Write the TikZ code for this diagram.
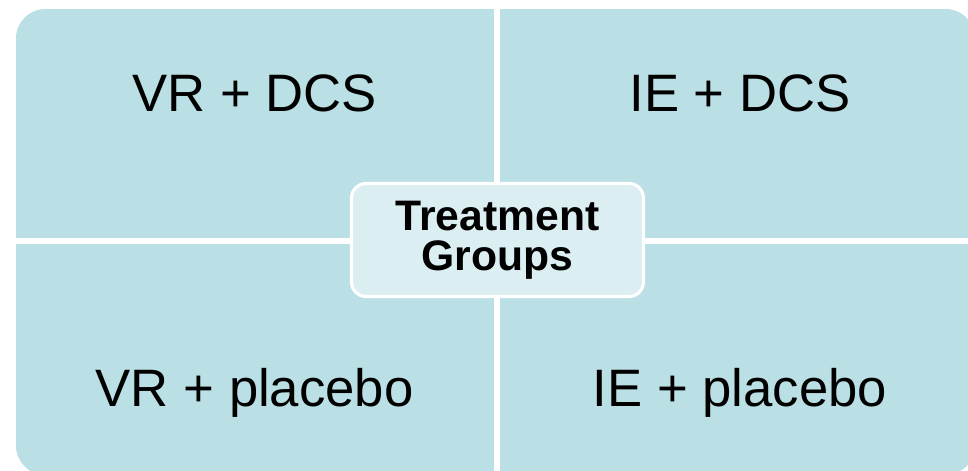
\documentclass[tikz,border=0pt]{standalone}
\usepackage{fontspec}
\setmainfont{Liberation Sans}
\usetikzlibrary{positioning}
\definecolor{tile}{HTML}{BADFE4}
\definecolor{hub}{HTML}{DBEEF1}
\tikzset{
  quadlabel/.style={anchor=base, font=\fontsize{39.5}{44}\selectfont},
  hubbox/.style={draw=white, line width=2.4pt, fill=hub, rounded corners=11pt,
    minimum width=219pt, minimum height=84.8pt, align=center, inner sep=0pt,
    font=\bfseries\fontsize{32}{30}\selectfont},
  gap/.style={white, line width=4pt},
}
\begin{document}
\begin{tikzpicture}[x=0.75pt,y=-0.75pt]
 \useasboundingbox (0,0) rectangle (968,471);
 % tiles
 \fill[tile, rounded corners=22pt] (16,9) rectangle (975,475);
 \draw[gap] (497,0) -- (497,480);
 \draw[gap] (0,241) -- (980,241);
 % labels
 \node[quadlabel] (vrdcs) at (254.7,111.7) {VR + DCS};
 \node[quadlabel] (iedcs) at (740,111.7) {IE + DCS};
 \node[quadlabel] (vrpla) at (254.7,406.7) {VR + placebo};
 \node[quadlabel] (iepla) at (740,406.7) {IE + placebo};
 \node[hubbox] (hub) at (497.5,240) {Treatment\\Groups};
\end{tikzpicture}
\end{document}
